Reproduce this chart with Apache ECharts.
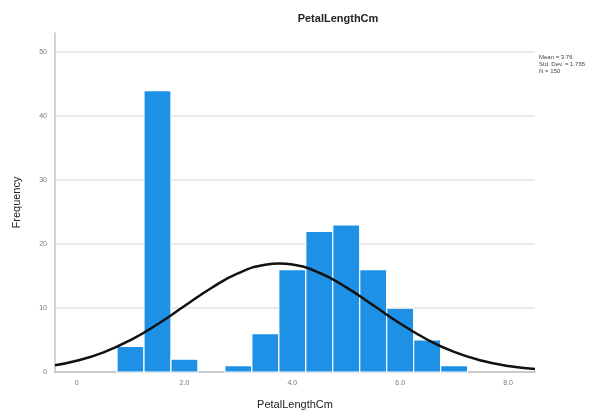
<!DOCTYPE html>
<html>
<head>
<meta charset="utf-8">
<script src="https://cdn.jsdelivr.net/npm/echarts@6/dist/echarts.min.js"></script>
<style>html,body{margin:0;padding:0;background:#fff}#c{width:616px;height:416px}</style>
</head>
<body>
<div id="c"></div>
<script>
const binCenters = [1.0, 1.5, 2.0, 2.5, 3.0, 3.5, 4.0, 4.5, 5.0, 5.5, 6.0, 6.5, 7.0];
const counts = [4, 44, 2, 0, 1, 6, 16, 22, 23, 16, 10, 5, 1];
const binWidth = 0.5;
const curveX = [-0.4, 0, 0.5, 1.0, 1.5, 2.0, 2.5, 3.0, 3.5, 3.76, 4.0, 4.5, 5.0, 5.5, 6.0, 6.5, 7.0, 7.5, 8.0, 8.5];
const curveY = [1.05, 1.75, 3.08, 4.99, 7.47, 10.31, 13.14, 15.45, 16.77, 16.95, 16.79, 15.52, 13.24, 10.43, 7.58, 5.08, 3.14, 1.80, 0.95, 0.46];
const xTicks = [0, 2, 4, 6, 8];
const statsLines = ['Mean = 3.76', 'Std. Dev. = 1.765', 'N = 150'];

const chart = echarts.init(document.getElementById('c'));
const barData = binCenters.map((c, i) => [c, counts[i]]);
const lineData = curveX.map((x, i) => [x, curveY[i]]);

chart.setOption({
  animation: false,
  title: {
    text: 'PetalLengthCm',
    left: 333, top: 8, textAlign: 'center',
    textStyle: {fontFamily: 'Liberation Sans', fontSize: 11, fontWeight: 'bold', color: '#222'}
  },
  grid: {left: 55, right: 81, top: 33, bottom: 44},
  xAxis: {
    type: 'value', min: -0.4, max: 8.5,
    name: 'PetalLengthCm', nameLocation: 'middle', nameGap: 27,
    nameTextStyle: {fontFamily: 'Liberation Sans', fontSize: 11, color: '#222'},
    axisLine: {show: true, onZero: false, lineStyle: {color: '#b8b8b8', width: 1.5}},
    axisTick: {show: false},
    splitLine: {show: false},
    axisLabel: {
      customValues: xTicks,
      formatter: v => v === 0 ? '0' : v.toFixed(1),
      fontFamily: 'Liberation Sans', fontSize: 7, color: '#777', margin: 8
    }
  },
  yAxis: {
    type: 'value', min: 0, max: 53, interval: 10,
    name: 'Frequency', nameLocation: 'middle', nameGap: 33, nameRotate: 90,
    nameTextStyle: {fontFamily: 'Liberation Sans', fontSize: 11, color: '#222'},
    axisLine: {show: true, onZero: false, lineStyle: {color: '#c4c4c4', width: 1.5}},
    axisTick: {show: false},
    splitLine: {show: true, showMinLine: false, showMaxLine: false, lineStyle: {color: '#e2e2e2', width: 1.5}},
    axisLabel: {
      fontFamily: 'Liberation Sans', fontSize: 7, color: '#777', margin: 8,
      showMaxLabel: false
    }
  },
  graphic: [{
    type: 'text', left: 539, top: 54,
    style: {text: statsLines.join('\n'), fontFamily: 'Liberation Sans', fontSize: 6, lineHeight: 7, fill: '#444'}
  }],
  series: [{
    type: 'custom',
    data: barData,
    renderItem: function (params, api) {
      const c = api.value(0), v = api.value(1);
      if (v <= 0) return null;
      const p0 = api.coord([c - binWidth / 2, v]);
      const p1 = api.coord([c + binWidth / 2, 0]);
      return {
        type: 'rect',
        shape: {x: p0[0], y: p0[1], width: p1[0] - p0[0], height: p1[1] - p0[1]},
        style: {fill: '#1e90e6', stroke: '#ffffff', lineWidth: 1.2}
      };
    },
    z: 2
  }, {
    type: 'line',
    data: lineData,
    smooth: true,
    showSymbol: false,
    lineStyle: {color: '#111', width: 2.5},
    z: 3
  }]
});
</script>
</body>
</html>
